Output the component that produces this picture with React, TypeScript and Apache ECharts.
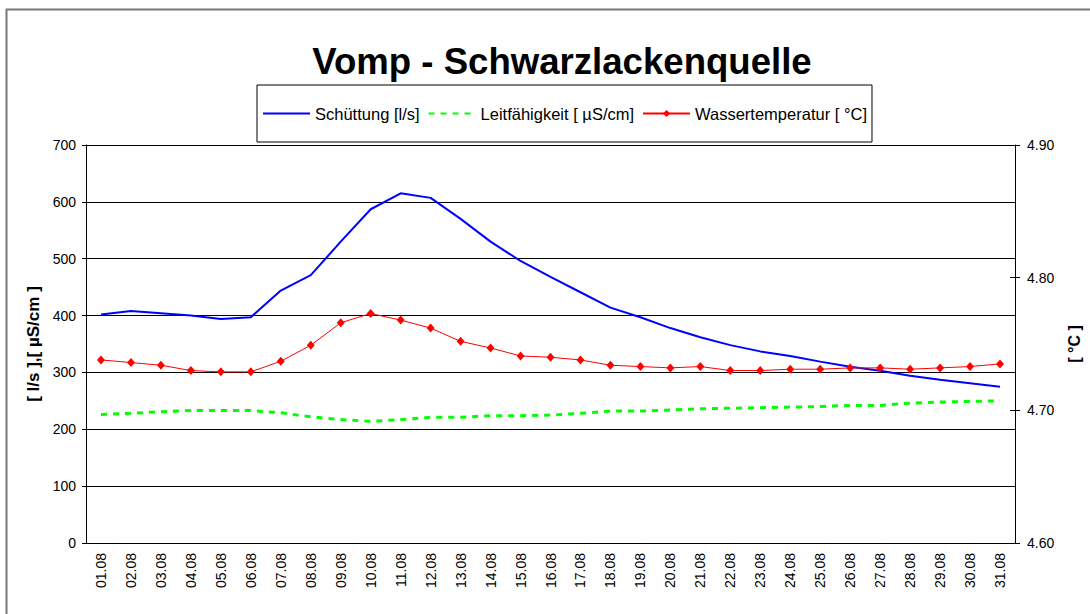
import React, { useEffect, useRef } from 'react';
import * as echarts from 'echarts';

const dates = [
  '01.08', '02.08', '03.08', '04.08', '05.08', '06.08', '07.08', '08.08', '09.08', '10.08',
  '11.08', '12.08', '13.08', '14.08', '15.08', '16.08', '17.08', '18.08', '19.08', '20.08',
  '21.08', '22.08', '23.08', '24.08', '25.08', '26.08', '27.08', '28.08', '29.08', '30.08', '31.08',
];

const schuettung = [
  402, 408, 404, 400, 394, 397, 444, 471, 530, 587,
  615, 607, 570, 530, 496, 468, 441, 414, 397, 378,
  362, 348, 337, 329, 319, 310, 303, 294, 287, 281, 275,
];

const leitfaehigkeit = [
  226, 228, 231, 233, 233, 233, 229, 222, 217, 214,
  217, 221, 221, 224, 224, 225, 228, 232, 232, 234,
  236, 237, 238, 239, 240, 242, 242, 246, 248, 249, 250,
];

const temperatur = [
  4.738, 4.736, 4.734, 4.730, 4.729, 4.729, 4.737, 4.749, 4.766, 4.773,
  4.768, 4.762, 4.752, 4.747, 4.741, 4.740, 4.738, 4.734, 4.733, 4.732,
  4.733, 4.730, 4.730, 4.731, 4.731, 4.732, 4.732, 4.731, 4.732, 4.733, 4.735,
];

const leftTicks = { min: 0, max: 700, interval: 100 };
const rightTicks = { min: 4.6, max: 4.9, interval: 0.1 };

const names = ['Schüttung [l/s]', 'Leitfähigkeit [ µS/cm]', 'Wassertemperatur [ °C]'];

export default function App() {
  const ref = useRef<HTMLDivElement>(null);
  useEffect(() => {
    const chart = echarts.init(ref.current!, null, { renderer: 'svg' });
    const font = "'Liberation Sans', Arial, sans-serif";
    chart.setOption({
      animation: false,
      backgroundColor: '#ffffff',
      textStyle: { fontFamily: font },
      title: {
        text: 'Vomp - Schwarzlackenquelle',
        left: 557,
        top: 38,
        textAlign: 'center',
        textStyle: { fontSize: 36.6, fontWeight: 'bold', color: '#000', fontFamily: font },
      },
      legend: {
        left: 257,
        top: 85,
        padding: [20, 5, 20, 5],
        borderColor: '#000',
        borderWidth: 1,
        itemWidth: 47,
        itemHeight: 9,
        itemGap: 8,
        textStyle: { fontSize: 16.5, color: '#000', fontFamily: font },
        data: [
          { name: names[0], itemStyle: { opacity: 0 } },
          { name: names[1], itemStyle: { opacity: 0 } },
          { name: names[2] },
        ],
      },
      graphic: [
        {
          type: 'rect',
          silent: true,
          z: -10,
          shape: { x: 6.5, y: 9.5, width: 1200, height: 800 },
          style: { fill: 'none', stroke: '#777', lineWidth: 2 },
        },
      ],
      grid: { left: 86, right: 69, top: 145, bottom: 71 },
      xAxis: [
        {
          type: 'category',
          data: dates,
          position: 'bottom',
          boundaryGap: true,
          axisLine: { lineStyle: { color: '#000', width: 1 } },
          axisTick: { length: 5, lineStyle: { color: '#000' } },
          axisLabel: { rotate: 90, fontSize: 14, color: '#000', margin: 10, interval: 0, fontFamily: font },
          splitLine: { show: false },
        },
        {
          type: 'category',
          data: dates,
          position: 'bottom',
          boundaryGap: true,
          axisLine: { show: false },
          axisTick: { inside: true, length: 5, lineStyle: { color: '#000' } },
          axisLabel: { show: false },
          splitLine: { show: false },
        },
      ],
      yAxis: [
        {
          type: 'value',
          position: 'left',
          min: leftTicks.min,
          max: leftTicks.max,
          interval: leftTicks.interval,
          name: '[ l/s ],[ µS/cm ]',
          nameLocation: 'middle',
          nameRotate: 90,
          nameGap: 44,
          nameTextStyle: { fontSize: 17, fontWeight: 'bold', color: '#000', fontFamily: font },
          axisLine: { show: true, lineStyle: { color: '#000', width: 1 } },
          axisTick: { show: true, length: 4, lineStyle: { color: '#000' } },
          axisLabel: { fontSize: 14, color: '#000', margin: 10, fontFamily: font },
          splitLine: { show: true, lineStyle: { color: '#000', width: 1 } },
        },
        {
          type: 'value',
          position: 'right',
          min: rightTicks.min,
          max: rightTicks.max,
          interval: rightTicks.interval,
          name: '[ °C ]',
          nameLocation: 'middle',
          nameRotate: 90,
          nameGap: 51,
          nameTextStyle: { fontSize: 16, fontWeight: 'bold', color: '#000', fontFamily: font },
          axisLine: { show: true, lineStyle: { color: '#000', width: 1 } },
          axisTick: { show: true, length: 5, lineStyle: { color: '#000' } },
          axisLabel: {
            fontSize: 14,
            color: '#000',
            margin: 12,
            fontFamily: font,
            formatter: (v: number) => v.toFixed(2),
          },
          splitLine: { show: false },
        },
        {
          type: 'value',
          position: 'right',
          min: rightTicks.min,
          max: rightTicks.max,
          interval: rightTicks.interval,
          axisLine: { show: false },
          axisTick: { show: true, inside: true, length: 5, lineStyle: { color: '#000' } },
          axisLabel: { show: false },
          splitLine: { show: false },
        },
      ],
      series: [
        {
          name: names[0],
          type: 'line',
          xAxisIndex: 0,
          yAxisIndex: 0,
          data: schuettung,
          symbol: 'none',
          lineStyle: { color: '#0000ff', width: 2 },
          itemStyle: { color: '#0000ff' },
          z: 3,
        },
        {
          name: names[1],
          type: 'line',
          xAxisIndex: 0,
          yAxisIndex: 0,
          data: leitfaehigkeit,
          symbol: 'none',
          lineStyle: { color: '#00ff00', width: 3, type: [6, 6] },
          itemStyle: { color: '#00ff00' },
          z: 2,
        },
        {
          name: names[2],
          type: 'line',
          xAxisIndex: 0,
          yAxisIndex: 1,
          data: temperatur,
          symbol: 'diamond',
          symbolSize: [8, 9],
          lineStyle: { color: '#ff0000', width: 1 },
          itemStyle: { color: '#ff0000' },
          z: 4,
        },
      ],
    });
    return () => chart.dispose();
  }, []);
  return (
    <div
      ref={ref}
      style={{ position: 'absolute', left: 0, top: 0, width: 1090, height: 614 }}
    />
  );
}
